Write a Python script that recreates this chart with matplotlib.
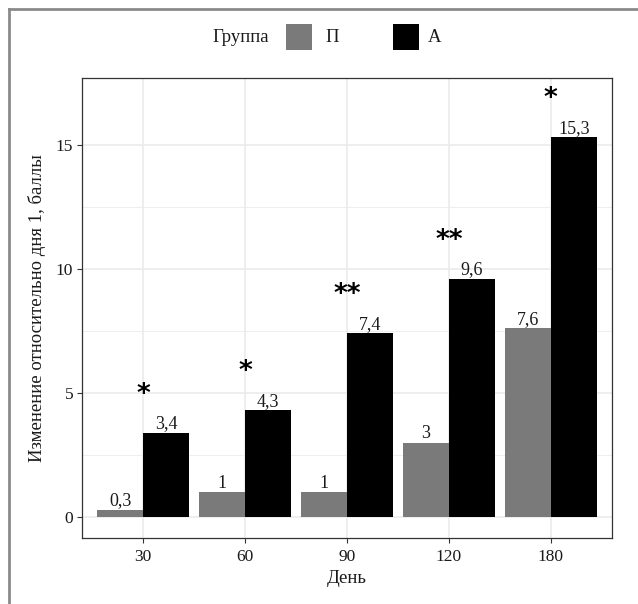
import matplotlib
matplotlib.use("Agg")
import matplotlib.pyplot as plt
from matplotlib.patches import Rectangle
from matplotlib.lines import Line2D
import numpy as np

days = ["30", "60", "90", "120", "180"]
group_p = [0.3, 1.0, 1.0, 3.0, 7.6]
group_a = [3.4, 4.3, 7.4, 9.6, 15.3]
signif = ["*", "*", "**", "**", "*"]
group_names = ["П", "А"]
colors = ["#7a7a7a", "#000000"]
legend_title = "Группа"
xlabel = "День"
ylabel = "Изменение относительно дня 1, баллы"
yticks = [0, 5, 10, 15]

W, H = 638, 604
plt.rcParams['font.family'] = ['Liberation Serif', 'DejaVu Serif']
fig = plt.figure(figsize=(W / 100, H / 100), dpi=100)
ax = fig.add_axes([82 / W, 1 - 538 / H, (612 - 82) / W, (538 - 78) / H])

def fmt(v):
    return ("%g" % v).replace(".", ",")

x = np.arange(len(days))
bw = 0.45
for vals, off, col in [(group_p, -bw / 2, colors[0]), (group_a, bw / 2, colors[1])]:
    ax.bar(x + off, vals, width=bw, color=col, zorder=3, linewidth=0)
    for xi, v in zip(x, vals):
        ax.text(xi + off, v + 0.17, fmt(v), ha='center', va='baseline',
                fontsize=13, color='#1a1a1a', zorder=4)

for xi, v, s in zip(x, group_a, signif):
    ax.text(xi, v + 1.25, s, ha='center', va='baseline',
            fontsize=19, fontweight='bold', family='DejaVu Sans', zorder=4)

ax.set_xlim(-0.6, 4.6)
ax.set_ylim(-0.8425, 17.69)
ax.set_xticks(x)
ax.set_xticklabels(days)
ax.set_yticks(yticks)
ax.set_yticks([2.5, 7.5, 12.5], minor=True)
ax.tick_params(axis='both', which='major', length=3.3, width=0.8, color='#333333',
               labelsize=12.5, labelcolor='#1a1a1a')
ax.tick_params(axis='x', which='major', pad=4.5)
ax.tick_params(axis='y', which='major', pad=3)
ax.tick_params(axis='both', which='minor', length=0)
ax.grid(True, which='major', color='#ebebeb', linewidth=1.2, zorder=0)
ax.grid(True, which='minor', axis='y', color='#ebebeb', linewidth=0.6, zorder=0)
ax.set_axisbelow(True)
for sp in ax.spines.values():
    sp.set_color('#333333')
    sp.set_linewidth(0.9)

ax.set_xlabel(xlabel, fontsize=13.5, color='#1a1a1a', labelpad=4)
ax.set_ylabel(ylabel, fontsize=13.5, color='#1a1a1a', labelpad=7)

# legend (manual, top centered)
fig.text(212 / W, 1 - 37 / H, legend_title, fontsize=13.5, ha='left', va='center', color='#1a1a1a')
key_x = [286, 393]
lab_x = [325, 428]
for kx, lx, col, name in zip(key_x, lab_x, colors, group_names):
    fig.add_artist(Rectangle((kx / W, 1 - 49.5 / H), 26 / W, 26 / H,
                             transform=fig.transFigure, facecolor=col, edgecolor='none'))
    fig.text(lx / W, 1 - 37 / H, name, fontsize=13.5, ha='left', va='center', color='#1a1a1a')

# outer frame lines (top & left)
fig.add_artist(Line2D([8.5 / W, 1], [1 - 8.5 / H, 1 - 8.5 / H], transform=fig.transFigure,
                      color='#8a8a8a', linewidth=2.0))
fig.add_artist(Line2D([8.5 / W, 8.5 / W], [0, 1 - 8.5 / H], transform=fig.transFigure,
                      color='#8a8a8a', linewidth=2.0))

fig.savefig("out.png", dpi=100, facecolor='white')
